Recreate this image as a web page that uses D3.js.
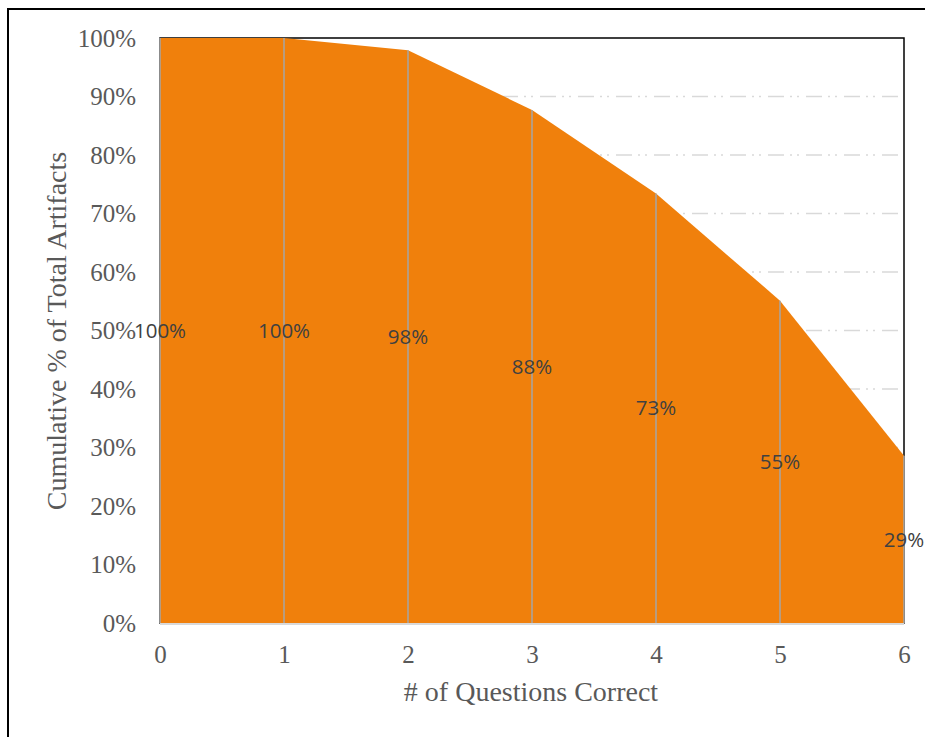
<!DOCTYPE html>
<html>
<head>
<meta charset="utf-8">
<script src="https://cdn.jsdelivr.net/npm/d3@7"></script>
<style>
  html, body { margin: 0; padding: 0; background: #fff; }
  svg { display: block; }
</style>
</head>
<body>
<svg id="chart" width="925" height="737"></svg>
<script>
const categories = [0, 1, 2, 3, 4, 5, 6];
const values = [1.00, 1.00, 0.979, 0.877, 0.734, 0.551, 0.286];
const yTicks = [0, 0.1, 0.2, 0.3, 0.4, 0.5, 0.6, 0.7, 0.8, 0.9, 1.0];
const xTitle = "# of Questions Correct";
const yTitle = "Cumulative % of Total Artifacts";

const svg = d3.select("#chart");
const W = 925, H = 737;
const m = { left: 160, right: 21, top: 38, bottom: 114 };
const pw = W - m.left - m.right, ph = H - m.top - m.bottom;

const x = d3.scaleLinear().domain([0, 6]).range([m.left, m.left + pw]);
const y = d3.scaleLinear().domain([0, 1]).range([m.top + ph, m.top]);

const serif = "'Liberation Serif', 'DejaVu Serif', serif";
const sans = "'Open Sans', 'Noto Sans', sans-serif";

// outer chart border
svg.append("rect").attr("x", 8).attr("y", 9).attr("width", 1000).attr("height", 1000)
  .attr("fill", "none").attr("stroke", "#000").attr("stroke-width", 2);

// gridlines
svg.append("g").selectAll("line").data(yTicks.filter(d => d > 0 && d < 1)).join("line")
  .attr("x1", m.left).attr("x2", m.left + pw)
  .attr("y1", d => y(d)).attr("y2", d => y(d))
  .attr("stroke", "#d9d9d9").attr("stroke-width", 1.5)
  .attr("stroke-dasharray", "16,6,2,5,2,7");

// plot border
svg.append("rect").attr("x", m.left).attr("y", m.top).attr("width", pw).attr("height", ph)
  .attr("fill", "none").attr("stroke", "#000").attr("stroke-width", 1.5);

// area
const area = d3.area().x((d, i) => x(categories[i])).y0(y(0)).y1(d => y(d));
svg.append("path").datum(values).attr("d", area).attr("fill", "#f0800c");

// drop lines
svg.append("g").selectAll("line").data(values).join("line")
  .attr("x1", (d, i) => x(categories[i])).attr("x2", (d, i) => x(categories[i]))
  .attr("y1", d => y(d)).attr("y2", y(0))
  .attr("stroke", "#a6a6a6").attr("stroke-width", 1.5);

// bottom axis line
svg.append("line").attr("x1", m.left).attr("x2", m.left + pw)
  .attr("y1", y(0) + 1).attr("y2", y(0) + 1)
  .attr("stroke", "#d9d9d9").attr("stroke-width", 2);

// y axis
const yAxis = d3.axisLeft(y).tickValues(yTicks).tickFormat(d3.format(".0%")).tickSize(0).tickPadding(24);
const gy = svg.append("g").attr("transform", `translate(${m.left},0)`).call(yAxis);
gy.select(".domain").remove();
gy.selectAll("text").attr("font-family", serif).attr("font-size", 25).attr("fill", "#595959");

// x axis
const xAxis = d3.axisBottom(x).tickValues(categories).tickFormat(d3.format("d")).tickSize(0).tickPadding(22);
const gx = svg.append("g").attr("transform", `translate(0,${y(0)})`).call(xAxis);
gx.select(".domain").remove();
gx.selectAll("text").attr("font-family", serif).attr("font-size", 25).attr("fill", "#595959");

// data labels
svg.append("g").selectAll("text").data(values).join("text")
  .attr("x", (d, i) => x(categories[i])).attr("y", d => y(d / 2))
  .attr("dy", "0.35em").attr("text-anchor", "middle")
  .attr("font-family", sans).attr("font-size", 20.5).attr("fill", "#404040")
  .text(d => d3.format(".0%")(d));

// axis titles
svg.append("text").attr("x", 531).attr("y", 701)
  .attr("text-anchor", "middle").attr("font-family", serif).attr("font-size", 28)
  .attr("fill", "#595959").text(xTitle);
svg.append("text").attr("transform", `translate(66,${331}) rotate(-90)`)
  .attr("text-anchor", "middle").attr("font-family", serif).attr("font-size", 28)
  .attr("fill", "#595959").text(yTitle);
</script>
</body>
</html>
